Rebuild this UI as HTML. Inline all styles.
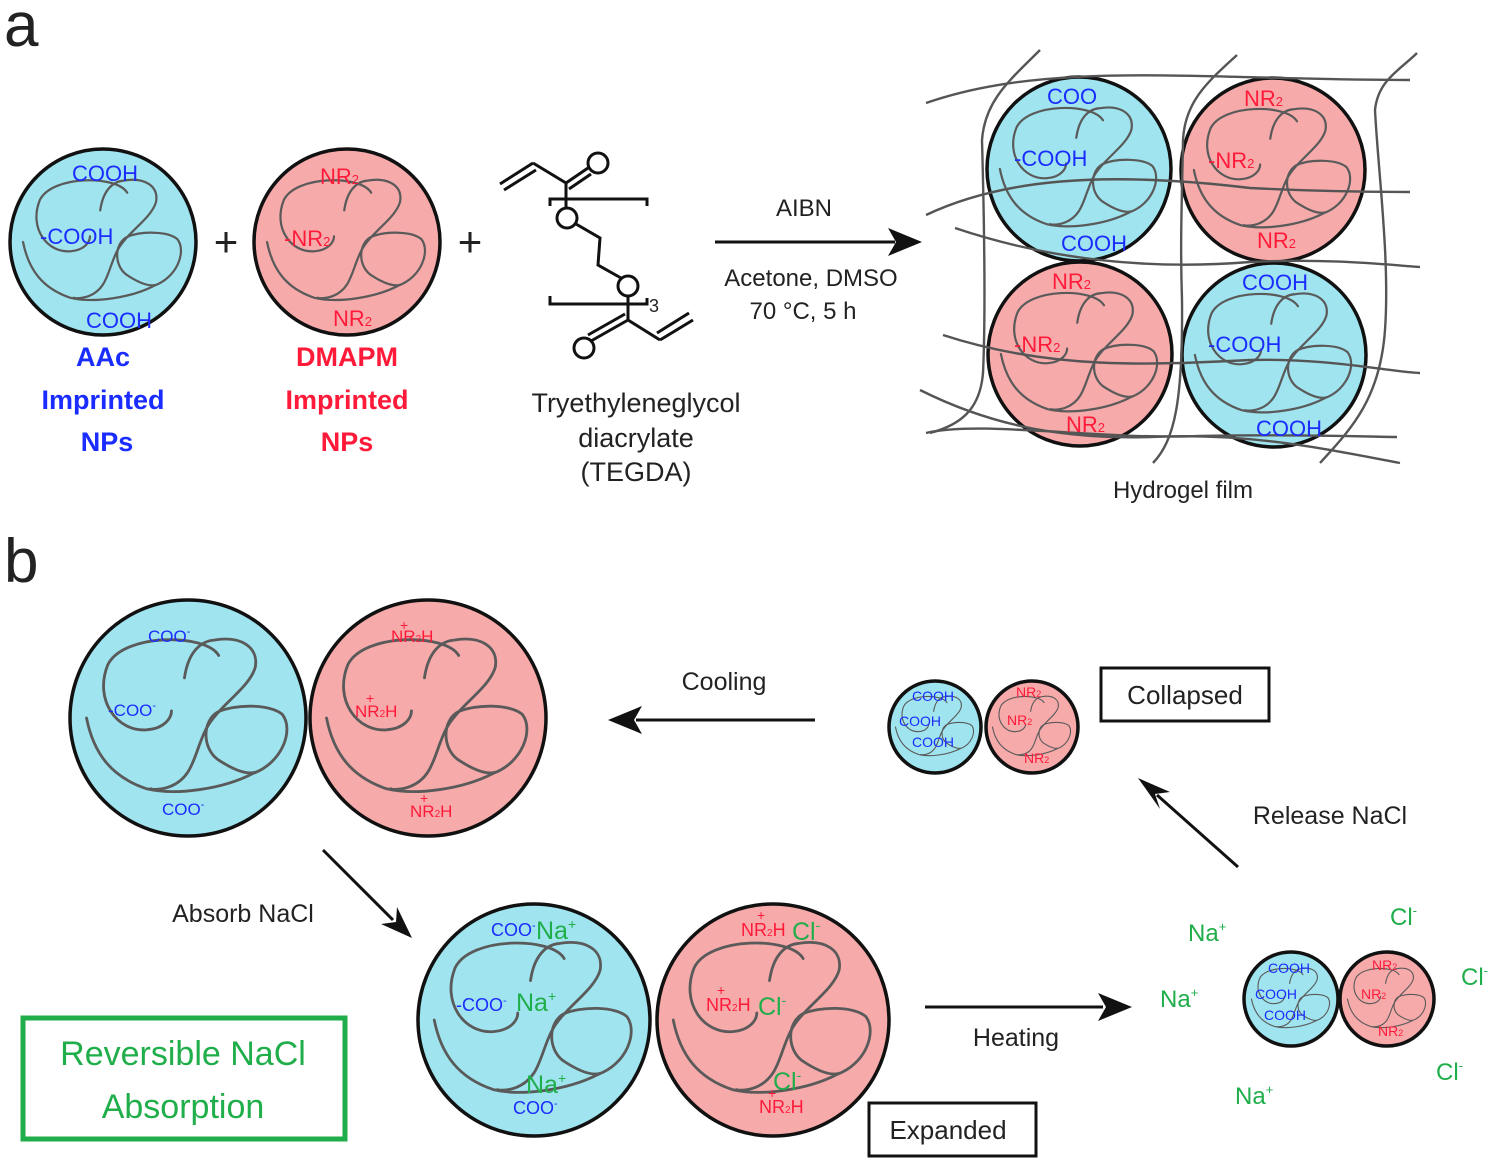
<!DOCTYPE html>
<html><head><meta charset="utf-8"><style>
html,body{margin:0;padding:0;background:#fff}
svg{display:block}
text{font-family:"Liberation Sans",Arial,sans-serif}
</style></head><body>
<svg width="1500" height="1166" viewBox="0 0 1500 1166" xmlns="http://www.w3.org/2000/svg">
<defs>
<g id="sq" fill="none" stroke="#5a5a5a" stroke-width="2.4" stroke-linecap="round">
<path d="M 26,-53 C 15,-72 -55,-72 -68,-45 C -80,-15 -60,12 -35,10 C -20,9 -14,0 -14,-6"/>
<path d="M -3,-34 C 0,-55 10,-65 22,-66 C 45,-70 60,-60 57,-43 C 52,-25 25,-10 15,10 C 5,30 5,50 -15,58 C -25,62 -35,60 -31,60"/>
<path d="M -86,0 C -80,30 -65,50 -35,60 C -10,66 30,60 55,47 C 80,38 90,10 80,-3 C 70,-12 40,-12 25,-5 C 12,3 12,25 25,35 C 40,45 50,48 57,46"/>
</g>
</defs>
<style>.b{fill:#9fe4ee;stroke:#111;stroke-width:3.5}.p{fill:#f7aaaa;stroke:#111;stroke-width:3.5}
.bl{fill:#1a2cff}.rd{fill:#ff1a3a}.gr{fill:#1fae4a}.k{fill:#222}</style>

<!-- panel a -->
<text x="4" y="46" font-size="62" class="k">a</text>
<circle cx="103" cy="242" r="93" class="b"/>
<use href="#sq" transform="translate(103,242) scale(0.93)"/>
<text x="72" y="181" font-size="22" class="bl">COOH</text>
<text x="40" y="244" font-size="22" class="bl">-COOH</text>
<text x="86" y="328" font-size="22" class="bl">COOH</text>
<circle cx="347" cy="242" r="93" class="p"/>
<use href="#sq" transform="translate(347,242) scale(0.93)"/>
<text x="320" y="184" font-size="22" class="rd">NR<tspan font-size="13">2</tspan></text>
<text x="284" y="246" font-size="22" class="rd">-NR<tspan font-size="13">2</tspan></text>
<text x="333" y="326" font-size="22" class="rd">NR<tspan font-size="13">2</tspan></text>
<text x="226" y="256" font-size="42" class="k" text-anchor="middle">+</text>
<text x="470" y="256" font-size="42" class="k" text-anchor="middle">+</text>
<g font-size="27" font-weight="bold" text-anchor="middle">
<text x="103" y="366" class="bl">AAc</text><text x="103" y="409" class="bl">Imprinted</text><text x="107" y="451" class="bl">NPs</text>
<text x="347" y="366" class="rd">DMAPM</text><text x="347" y="409" class="rd">Imprinted</text><text x="347" y="451" class="rd">NPs</text>
</g>
<!-- TEGDA -->
<g stroke="#111" stroke-width="3" fill="none">
<line x1="500" y1="184" x2="533" y2="163"/><line x1="504" y1="190" x2="536" y2="170"/>
<line x1="533" y1="163" x2="566" y2="183"/>
<line x1="566" y1="183" x2="588" y2="168"/><line x1="569" y1="189" x2="591" y2="174"/>
<circle cx="598" cy="163" r="10"/>
<line x1="566" y1="183" x2="566" y2="208"/>
<path d="M 550,206 V 199 H 647 V 206"/>
<circle cx="567" cy="218" r="10"/>
<path d="M 576,224 L 600,238 L 598,265 L 621,278"/>
<circle cx="628" cy="286" r="10"/>
<line x1="628" y1="296" x2="628" y2="320"/>
<path d="M 550,296 V 304 H 647 V 298"/>
<line x1="628" y1="320" x2="591" y2="341"/><line x1="625" y1="314" x2="588" y2="335"/>
<circle cx="584" cy="348" r="10"/>
<line x1="628" y1="320" x2="660" y2="340"/>
<line x1="660" y1="340" x2="693" y2="320"/><line x1="657" y1="333" x2="689" y2="313"/>
</g>
<text x="649" y="312" font-size="18" class="k">3</text>
<g font-size="27" text-anchor="middle" class="k">
<text x="636" y="412">Tryethyleneglycol</text><text x="636" y="447">diacrylate</text><text x="636" y="481">(TEGDA)</text>
</g>
<line x1="715" y1="242" x2="895" y2="242" stroke="#111" stroke-width="3"/>
<polygon points="922,242 888,228 896,242 888,256" fill="#111"/>
<g font-size="24" text-anchor="middle" class="k">
<text x="804" y="216">AIBN</text><text x="811" y="286">Acetone, DMSO</text><text x="803" y="319">70 °C, 5 h</text>
<text x="1183" y="498">Hydrogel film</text>
</g>
<!-- hydrogel -->
<circle cx="1079" cy="169" r="92" class="b"/>
<circle cx="1273" cy="170" r="92" class="p"/>
<circle cx="1080" cy="354" r="92" class="p"/>
<circle cx="1274" cy="355" r="92" class="b"/>
<use href="#sq" transform="translate(1079,169) scale(0.92)"/>
<use href="#sq" transform="translate(1273,170) scale(0.92)"/>
<use href="#sq" transform="translate(1080,354) scale(0.92)"/>
<use href="#sq" transform="translate(1274,355) scale(0.92)"/>
<g fill="none" stroke="#555" stroke-width="2.4">
<path d="M 926,103 C 1050,60 1200,80 1410,80"/>
<path d="M 926,215 C 1000,180 1100,170 1250,188 C 1330,192 1380,192 1410,192"/>
<path d="M 955,228 C 1050,260 1150,270 1250,262 C 1330,258 1390,265 1420,267"/>
<path d="M 943,335 C 1050,370 1150,365 1250,360 C 1330,358 1390,372 1420,373"/>
<path d="M 920,390 C 980,420 1050,440 1150,437 C 1250,432 1330,450 1400,463"/>
<path d="M 926,433 C 980,420 1100,440 1200,436 C 1300,434 1380,437 1397,437"/>
<path d="M 1040,50 C 1010,80 985,100 982,140 C 985,250 985,330 983,373 C 980,410 960,425 930,433"/>
<path d="M 1237,55 C 1210,80 1185,100 1183,140 C 1182,200 1180,240 1182,300 C 1183,400 1175,440 1153,463"/>
<path d="M 1417,53 C 1400,70 1378,80 1375,110 C 1378,170 1390,260 1385,330 C 1380,400 1350,430 1320,463"/>
</g>
<g font-size="22">
<text x="1047" y="104" class="bl">COO</text>
<text x="1014" y="166" class="bl">-COOH</text>
<text x="1061" y="251" class="bl">COOH</text>
<text x="1244" y="106" class="rd">NR<tspan font-size="13">2</tspan></text>
<text x="1208" y="168" class="rd">-NR<tspan font-size="13">2</tspan></text>
<text x="1257" y="248" class="rd">NR<tspan font-size="13">2</tspan></text>
<text x="1052" y="289" class="rd">NR<tspan font-size="13">2</tspan></text>
<text x="1014" y="352" class="rd">-NR<tspan font-size="13">2</tspan></text>
<text x="1066" y="432" class="rd">NR<tspan font-size="13">2</tspan></text>
<text x="1242" y="290" class="bl">COOH</text>
<text x="1208" y="352" class="bl">-COOH</text>
<text x="1256" y="436" class="bl">COOH</text>
</g>

<!-- panel b -->
<text x="4" y="582" font-size="62" class="k">b</text>
<circle cx="188" cy="718" r="118" class="b"/>
<use href="#sq" transform="translate(188,718) scale(1.18)"/>
<circle cx="428" cy="718" r="118" class="p"/>
<use href="#sq" transform="translate(428,718) scale(1.18)"/>
<g font-size="17">
<text x="148" y="642" class="bl">COO<tspan font-size="11" dy="-7">-</tspan></text>
<text x="108" y="716" class="bl">-COO<tspan font-size="11" dy="-7">-</tspan></text>
<text x="162" y="815" class="bl">COO<tspan font-size="11" dy="-7">-</tspan></text>
<text x="391" y="642" class="rd">NR<tspan font-size="10">2</tspan>H</text>
<text x="355" y="717" class="rd">NR<tspan font-size="10">2</tspan>H</text>
<text x="410" y="817" class="rd">NR<tspan font-size="10">2</tspan>H</text>
</g>
<g font-size="14" class="rd"><text x="400" y="630">+</text><text x="366" y="703">+</text><text x="420" y="803">+</text></g>

<text x="724" y="690" font-size="25" text-anchor="middle" class="k">Cooling</text>
<line x1="815" y1="720" x2="636" y2="720" stroke="#111" stroke-width="3"/>
<polygon points="608,720 642,706 634,720 642,734" fill="#111"/>

<circle cx="935" cy="727" r="46" class="b"/>
<use href="#sq" transform="translate(935,727) scale(0.46)"/>
<circle cx="1032" cy="727" r="46" class="p"/>
<use href="#sq" transform="translate(1032,727) scale(0.46)"/>
<g font-size="14">
<text x="912" y="701" class="bl">COOH</text>
<text x="899" y="726" class="bl">COOH</text>
<text x="912" y="747" class="bl">COOH</text>
<text x="1016" y="697" class="rd">NR<tspan font-size="9">2</tspan></text>
<text x="1007" y="725" class="rd">NR<tspan font-size="9">2</tspan></text>
<text x="1024" y="763" class="rd">NR<tspan font-size="9">2</tspan></text>
</g>
<rect x="1101" y="668" width="168" height="53" fill="#fff" stroke="#111" stroke-width="3"/>
<text x="1185" y="704" font-size="26" text-anchor="middle" class="k">Collapsed</text>

<line x1="1238" y1="867" x2="1157" y2="795" stroke="#111" stroke-width="3"/>
<polygon points="1138,778 1170,792 1155,794 1160,809" fill="#111"/>
<text x="1330" y="824" font-size="25" text-anchor="middle" class="k">Release NaCl</text>

<line x1="323" y1="850" x2="393" y2="920" stroke="#111" stroke-width="3"/>
<polygon points="412,938 381,924 396,922 397,907" fill="#111"/>
<text x="243" y="922" font-size="25" text-anchor="middle" class="k">Absorb NaCl</text>

<rect x="23" y="1018" width="322" height="121" fill="none" stroke="#1fae4a" stroke-width="5"/>
<text x="183" y="1065" font-size="34" text-anchor="middle" class="gr">Reversible NaCl</text>
<text x="183" y="1118" font-size="34" text-anchor="middle" class="gr">Absorption</text>

<circle cx="534" cy="1020" r="116" class="b"/>
<use href="#sq" transform="translate(534,1020) scale(1.16)"/>
<circle cx="773" cy="1020" r="116" class="p"/>
<use href="#sq" transform="translate(773,1020) scale(1.16)"/>
<g font-size="18">
<text x="491" y="936" class="bl">COO<tspan font-size="11" dy="-7">-</tspan></text>
<text x="456" y="1011" class="bl">-COO<tspan font-size="11" dy="-7">-</tspan></text>
<text x="513" y="1114" class="bl">COO<tspan font-size="11" dy="-7">-</tspan></text>
<text x="741" y="936" class="rd">NR<tspan font-size="10">2</tspan>H</text>
<text x="706" y="1011" class="rd">NR<tspan font-size="10">2</tspan>H</text>
<text x="759" y="1113" class="rd">NR<tspan font-size="10">2</tspan>H</text>
</g>
<g font-size="14" class="rd"><text x="757" y="920">+</text><text x="717" y="995">+</text><text x="768" y="1098">+</text></g>
<g font-size="25" class="gr">
<text x="536" y="939">Na<tspan font-size="14" dy="-10">+</tspan></text>
<text x="516" y="1011">Na<tspan font-size="14" dy="-10">+</tspan></text>
<text x="526" y="1093">Na<tspan font-size="14" dy="-10">+</tspan></text>
<text x="792" y="940">Cl<tspan font-size="14" dy="-10">-</tspan></text>
<text x="758" y="1015">Cl<tspan font-size="14" dy="-10">-</tspan></text>
<text x="773" y="1090">Cl<tspan font-size="14" dy="-10">-</tspan></text>
</g>
<rect x="869" y="1103" width="167" height="53" fill="#fff" stroke="#111" stroke-width="3"/>
<text x="948" y="1139" font-size="26" text-anchor="middle" class="k">Expanded</text>

<line x1="925" y1="1007" x2="1103" y2="1007" stroke="#111" stroke-width="3"/>
<polygon points="1132,1007 1098,993 1106,1007 1098,1021" fill="#111"/>
<text x="1016" y="1046" font-size="25" text-anchor="middle" class="k">Heating</text>

<circle cx="1291" cy="999" r="47" class="b"/>
<use href="#sq" transform="translate(1291,999) scale(0.46)"/>
<circle cx="1387" cy="999" r="47" class="p"/>
<use href="#sq" transform="translate(1387,999) scale(0.46)"/>
<g font-size="14">
<text x="1268" y="973" class="bl">COOH</text>
<text x="1255" y="999" class="bl">COOH</text>
<text x="1264" y="1020" class="bl">COOH</text>
<text x="1372" y="970" class="rd">NR<tspan font-size="9">2</tspan></text>
<text x="1361" y="999" class="rd">NR<tspan font-size="9">2</tspan></text>
<text x="1378" y="1036" class="rd">NR<tspan font-size="9">2</tspan></text>
</g>
<g font-size="24" class="gr">
<text x="1188" y="941">Na<tspan font-size="13" dy="-10">+</tspan></text>
<text x="1160" y="1007">Na<tspan font-size="13" dy="-10">+</tspan></text>
<text x="1235" y="1104">Na<tspan font-size="13" dy="-10">+</tspan></text>
<text x="1390" y="925">Cl<tspan font-size="13" dy="-10">-</tspan></text>
<text x="1461" y="985">Cl<tspan font-size="13" dy="-10">-</tspan></text>
<text x="1436" y="1080">Cl<tspan font-size="13" dy="-10">-</tspan></text>
</g>
</svg>
</body></html>
